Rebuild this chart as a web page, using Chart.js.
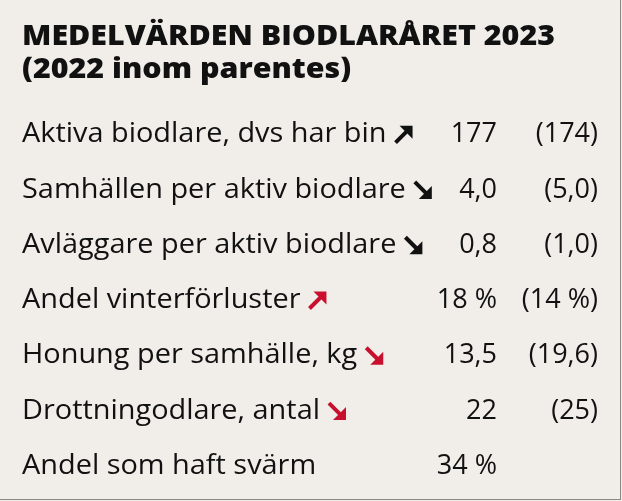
<!DOCTYPE html>
<html><head><meta charset="utf-8">
<script src="https://cdn.jsdelivr.net/npm/chart.js@4"></script>
<style>
html,body{margin:0;padding:0;background:#f1eeea;}
#wrap{width:620px;height:499px;border:1px solid #8a8683;border-top:none;border-left:none;position:relative;}
</style></head><body>
<div id="wrap"><canvas id="c"></canvas></div>
<script>
const titleLines = ['MEDELVÄRDEN BIODLARÅRET 2023', '(2022 inom parentes)'];
const labels = ['Aktiva biodlare, dvs har bin', 'Samhällen per aktiv biodlare', 'Avläggare per aktiv biodlare',
  'Andel vinterförluster', 'Honung per samhälle, kg', 'Drottningodlare, antal', 'Andel som haft svärm'];
const values2023 = [177, 4.0, 0.8, 18, 13.5, 22, 34];
const values2022 = [174, 5.0, 1.0, 14, 19.6, 25, null];
const decimals = [0, 1, 1, 0, 1, 0, 0];
const units = ['', '', '', ' %', '', '', ' %'];
const trend = ['up', 'down', 'down', 'up', 'down', 'down', null];
const trendColor = ['#111', '#111', '#111', '#c8102e', '#c8102e', '#c8102e', null];

const FONT = '"Open Sans", sans-serif';
function fmt(v, i) {
  return v.toFixed(decimals[i]).replace('.', ',') + units[i];
}

function arrow(ctx, x, y, dir, color) {
  const s = 18;
  ctx.save();
  ctx.strokeStyle = color; ctx.fillStyle = color; ctx.lineWidth = 4;
  const y0 = dir === 'up' ? y + s / 2 : y - s / 2;
  const y1 = dir === 'up' ? y - s / 2 : y + s / 2;
  ctx.beginPath(); ctx.moveTo(x + 1, y0 + (dir === 'up' ? -1 : 1)); ctx.lineTo(x + s - 4, y1 + (dir === 'up' ? 4 : -4)); ctx.stroke();
  ctx.beginPath();
  ctx.moveTo(x + s, y1);
  ctx.lineTo(x + 5, y1);
  ctx.lineTo(x + s, dir === 'up' ? y1 + s - 5 : y1 - s + 5);
  ctx.closePath(); ctx.fill();
  ctx.restore();
}

const textPlugin = {
  id: 'tableText',
  beforeDraw(chart) {
    const ctx = chart.ctx;
    ctx.save();
    ctx.fillStyle = '#f1eeea';
    ctx.fillRect(0, 0, chart.width, chart.height);
    ctx.fillStyle = '#111';
    ctx.textBaseline = 'middle';
    ctx.font = '800 29px ' + FONT;
    titleLines.forEach((t, k) => {
      ctx.save();
      ctx.translate(22, 37 + k * 33);
      ctx.scale(1.0, 1);
      const w = ctx.measureText(titleLines[0]).width;
      ctx.scale(533 / w, 1);
      ctx.fillText(t, 0, 0);
      ctx.restore();
    });
    const ys = chart.scales.y;
    const xs = chart.scales.x;
    const sx = 1.07;
    labels.forEach((lab, i) => {
      const y = ys.getPixelForValue(i);
      ctx.font = '27px ' + FONT;
      ctx.textAlign = 'left';
      ctx.save();
      ctx.translate(22, y);
      ctx.scale(sx, 1);
      ctx.fillText(lab, 0, 0);
      const w = ctx.measureText(lab).width * sx;
      ctx.restore();
      if (trend[i]) arrow(ctx, 22 + w + 8, y, trend[i], trendColor[i]);
      ctx.textAlign = 'right';
      ctx.fillText(fmt(values2023[i], i), xs.right - 101, y);
      if (values2022[i] !== null) ctx.fillText('(' + fmt(values2022[i], i) + ')', xs.right, y);
    });
    ctx.restore();
  }
};

new Chart(document.getElementById('c'), {
  type: 'bar',
  data: { labels: labels, datasets: [{ data: values2023, backgroundColor: 'rgba(0,0,0,0)' }] },
  options: {
    indexAxis: 'y',
    responsive: true,
    maintainAspectRatio: false,
    animation: false,
    layout: { padding: { top: 107, bottom: 5, left: 0, right: 22 } },
    plugins: { legend: { display: false }, tooltip: { enabled: false } },
    scales: {
      x: { display: false, min: 0, max: 200 },
      y: { display: false }
    }
  },
  plugins: [textPlugin]
});
</script>
</body></html>
